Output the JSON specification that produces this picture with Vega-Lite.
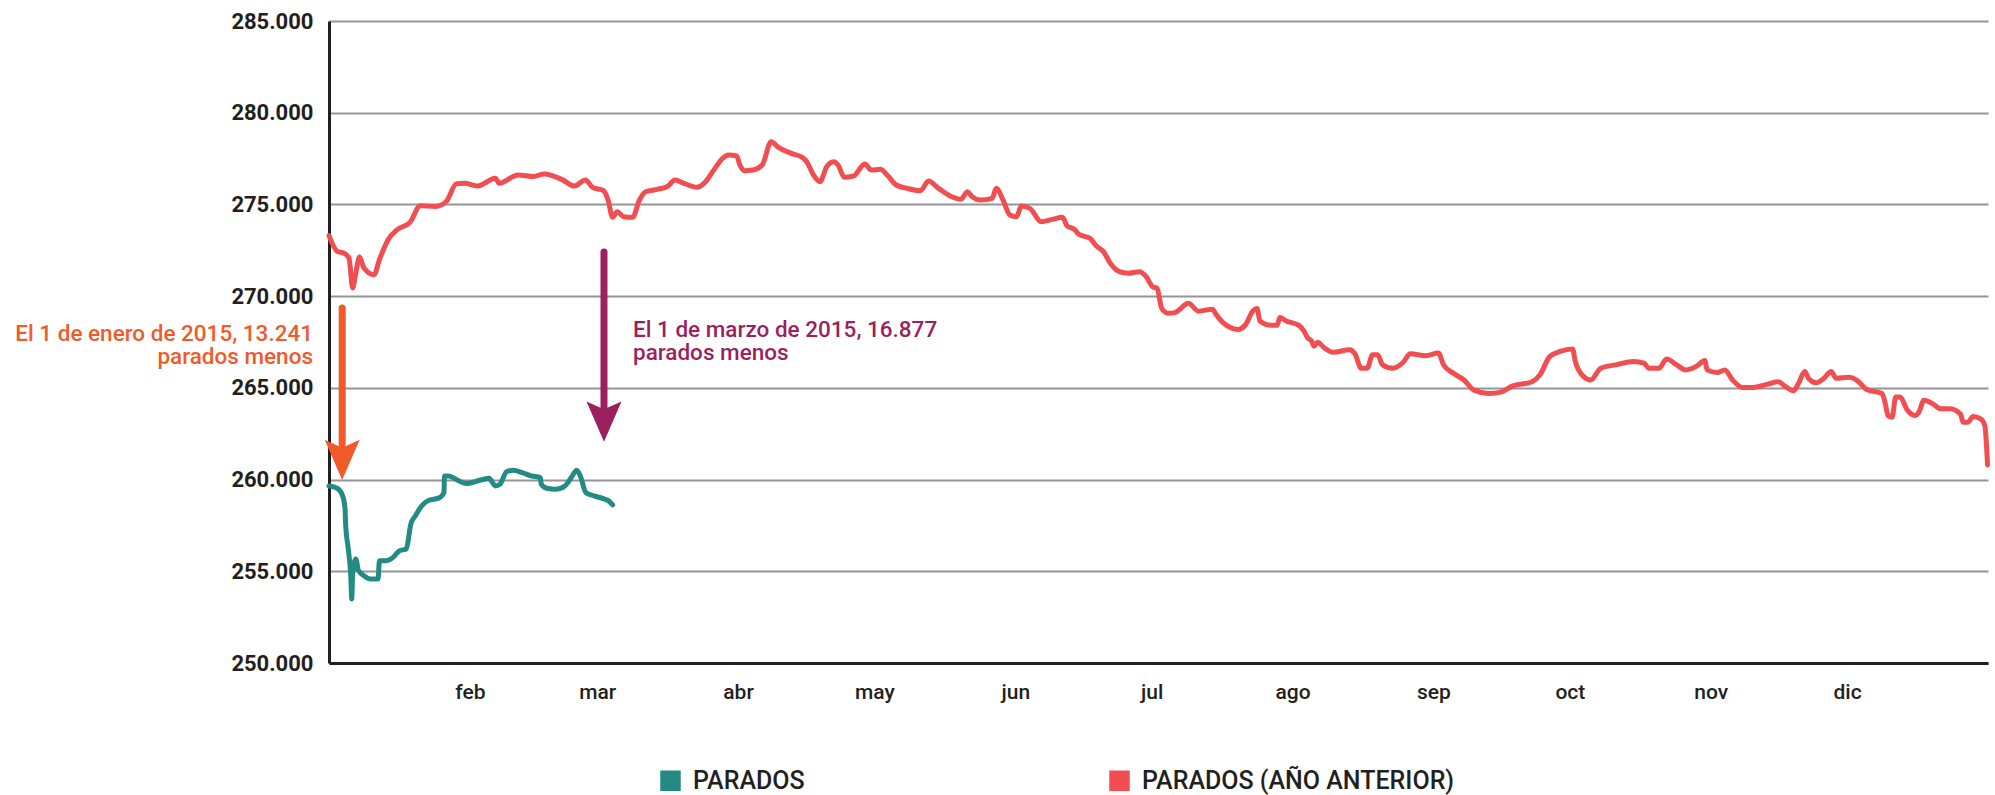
{
  "$schema": "https://vega.github.io/schema/vega-lite/v6.json",
  "autosize": {"type": "none"},
  "padding": {"left": 329, "top": 21, "right": 7, "bottom": 132},
  "width": 1659,
  "height": 642,
  "background": "white",
  "config": {
    "font": "Roboto",
    "view": {"stroke": null}
  },
  "datasets": {
    "series": [
      {"serie": "PARADOS (AÑO ANTERIOR)", "dia": 0, "parados": 273295},
      {"serie": "PARADOS (AÑO ANTERIOR)", "dia": 1.8, "parados": 272443},
      {"serie": "PARADOS (AÑO ANTERIOR)", "dia": 3.2, "parados": 272350},
      {"serie": "PARADOS (AÑO ANTERIOR)", "dia": 4.4, "parados": 272080},
      {"serie": "PARADOS (AÑO ANTERIOR)", "dia": 5.2, "parados": 270450},
      {"serie": "PARADOS (AÑO ANTERIOR)", "dia": 5.9, "parados": 271265},
      {"serie": "PARADOS (AÑO ANTERIOR)", "dia": 6.7, "parados": 272130},
      {"serie": "PARADOS (AÑO ANTERIOR)", "dia": 7.7, "parados": 271537},
      {"serie": "PARADOS (AÑO ANTERIOR)", "dia": 9.9, "parados": 271170},
      {"serie": "PARADOS (AÑO ANTERIOR)", "dia": 11.1, "parados": 271990},
      {"serie": "PARADOS (AÑO ANTERIOR)", "dia": 13, "parados": 273077},
      {"serie": "PARADOS (AÑO ANTERIOR)", "dia": 15, "parados": 273620},
      {"serie": "PARADOS (AÑO ANTERIOR)", "dia": 17.8, "parados": 274020},
      {"serie": "PARADOS (AÑO ANTERIOR)", "dia": 20.1, "parados": 274925},
      {"serie": "PARADOS (AÑO ANTERIOR)", "dia": 23.4, "parados": 274890},
      {"serie": "PARADOS (AÑO ANTERIOR)", "dia": 25.8, "parados": 275160},
      {"serie": "PARADOS (AÑO ANTERIOR)", "dia": 28, "parados": 276120},
      {"serie": "PARADOS (AÑO ANTERIOR)", "dia": 29.8, "parados": 276157},
      {"serie": "PARADOS (AÑO ANTERIOR)", "dia": 32.7, "parados": 276010},
      {"serie": "PARADOS (AÑO ANTERIOR)", "dia": 36.6, "parados": 276430},
      {"serie": "PARADOS (AÑO ANTERIOR)", "dia": 37.4, "parados": 276157},
      {"serie": "PARADOS (AÑO ANTERIOR)", "dia": 41.6, "parados": 276610},
      {"serie": "PARADOS (AÑO ANTERIOR)", "dia": 45, "parados": 276520},
      {"serie": "PARADOS (AÑO ANTERIOR)", "dia": 47.4, "parados": 276665},
      {"serie": "PARADOS (AÑO ANTERIOR)", "dia": 51.4, "parados": 276340},
      {"serie": "PARADOS (AÑO ANTERIOR)", "dia": 54, "parados": 276004},
      {"serie": "PARADOS (AÑO ANTERIOR)", "dia": 56.4, "parados": 276330},
      {"serie": "PARADOS (AÑO ANTERIOR)", "dia": 58, "parados": 275933},
      {"serie": "PARADOS (AÑO ANTERIOR)", "dia": 60.4, "parados": 275748},
      {"serie": "PARADOS (AÑO ANTERIOR)", "dia": 61.4, "parados": 275241},
      {"serie": "PARADOS (AÑO ANTERIOR)", "dia": 62.4, "parados": 274297},
      {"serie": "PARADOS (AÑO ANTERIOR)", "dia": 63.4, "parados": 274603},
      {"serie": "PARADOS (AÑO ANTERIOR)", "dia": 64.8, "parados": 274331},
      {"serie": "PARADOS (AÑO ANTERIOR)", "dia": 66.8, "parados": 274297},
      {"serie": "PARADOS (AÑO ANTERIOR)", "dia": 68.3, "parados": 275241},
      {"serie": "PARADOS (AÑO ANTERIOR)", "dia": 69.7, "parados": 275694},
      {"serie": "PARADOS (AÑO ANTERIOR)", "dia": 72.2, "parados": 275820},
      {"serie": "PARADOS (AÑO ANTERIOR)", "dia": 74.6, "parados": 276004},
      {"serie": "PARADOS (AÑO ANTERIOR)", "dia": 76.1, "parados": 276330},
      {"serie": "PARADOS (AÑO ANTERIOR)", "dia": 78.1, "parados": 276149},
      {"serie": "PARADOS (AÑO ANTERIOR)", "dia": 81, "parados": 275933},
      {"serie": "PARADOS (AÑO ANTERIOR)", "dia": 82.5, "parados": 276149},
      {"serie": "PARADOS (AÑO ANTERIOR)", "dia": 84.9, "parados": 276966},
      {"serie": "PARADOS (AÑO ANTERIOR)", "dia": 86.4, "parados": 277459},
      {"serie": "PARADOS (AÑO ANTERIOR)", "dia": 87.9, "parados": 277694},
      {"serie": "PARADOS (AÑO ANTERIOR)", "dia": 89.7, "parados": 277640},
      {"serie": "PARADOS (AÑO ANTERIOR)", "dia": 90.4, "parados": 277149},
      {"serie": "PARADOS (AÑO ANTERIOR)", "dia": 91.4, "parados": 276840},
      {"serie": "PARADOS (AÑO ANTERIOR)", "dia": 93.3, "parados": 276876},
      {"serie": "PARADOS (AÑO ANTERIOR)", "dia": 95.3, "parados": 277149},
      {"serie": "PARADOS (AÑO ANTERIOR)", "dia": 97.3, "parados": 278420},
      {"serie": "PARADOS (AÑO ANTERIOR)", "dia": 98.7, "parados": 278148},
      {"serie": "PARADOS (AÑO ANTERIOR)", "dia": 101.7, "parados": 277785},
      {"serie": "PARADOS (AÑO ANTERIOR)", "dia": 104.1, "parados": 277567},
      {"serie": "PARADOS (AÑO ANTERIOR)", "dia": 105.1, "parados": 277330},
      {"serie": "PARADOS (AÑO ANTERIOR)", "dia": 106.6, "parados": 276604},
      {"serie": "PARADOS (AÑO ANTERIOR)", "dia": 108, "parados": 276240},
      {"serie": "PARADOS (AÑO ANTERIOR)", "dia": 109.5, "parados": 277058},
      {"serie": "PARADOS (AÑO ANTERIOR)", "dia": 111, "parados": 277330},
      {"serie": "PARADOS (AÑO ANTERIOR)", "dia": 112, "parados": 277149},
      {"serie": "PARADOS (AÑO ANTERIOR)", "dia": 113.4, "parados": 276476},
      {"serie": "PARADOS (AÑO ANTERIOR)", "dia": 115.4, "parados": 276549},
      {"serie": "PARADOS (AÑO ANTERIOR)", "dia": 117.9, "parados": 277204},
      {"serie": "PARADOS (AÑO ANTERIOR)", "dia": 119.3, "parados": 276876},
      {"serie": "PARADOS (AÑO ANTERIOR)", "dia": 121.3, "parados": 276913},
      {"serie": "PARADOS (AÑO ANTERIOR)", "dia": 122.8, "parados": 276604},
      {"serie": "PARADOS (AÑO ANTERIOR)", "dia": 124.8, "parados": 276059},
      {"serie": "PARADOS (AÑO ANTERIOR)", "dia": 127.2, "parados": 275877},
      {"serie": "PARADOS (AÑO ANTERIOR)", "dia": 130.1, "parados": 275748},
      {"serie": "PARADOS (AÑO ANTERIOR)", "dia": 131.9, "parados": 276276},
      {"serie": "PARADOS (AÑO ANTERIOR)", "dia": 134.1, "parados": 275877},
      {"serie": "PARADOS (AÑO ANTERIOR)", "dia": 137, "parados": 275421},
      {"serie": "PARADOS (AÑO ANTERIOR)", "dia": 139, "parados": 275276},
      {"serie": "PARADOS (AÑO ANTERIOR)", "dia": 140.5, "parados": 275694},
      {"serie": "PARADOS (AÑO ANTERIOR)", "dia": 141.4, "parados": 275440},
      {"serie": "PARADOS (AÑO ANTERIOR)", "dia": 143.4, "parados": 275241},
      {"serie": "PARADOS (AÑO ANTERIOR)", "dia": 145.9, "parados": 275330},
      {"serie": "PARADOS (AÑO ANTERIOR)", "dia": 146.8, "parados": 275877},
      {"serie": "PARADOS (AÑO ANTERIOR)", "dia": 148.3, "parados": 275241},
      {"serie": "PARADOS (AÑO ANTERIOR)", "dia": 149.8, "parados": 274423},
      {"serie": "PARADOS (AÑO ANTERIOR)", "dia": 151.3, "parados": 274331},
      {"serie": "PARADOS (AÑO ANTERIOR)", "dia": 152.3, "parados": 274913},
      {"serie": "PARADOS (AÑO ANTERIOR)", "dia": 154.2, "parados": 274786},
      {"serie": "PARADOS (AÑO ANTERIOR)", "dia": 156.7, "parados": 274058},
      {"serie": "PARADOS (AÑO ANTERIOR)", "dia": 159.1, "parados": 274185},
      {"serie": "PARADOS (AÑO ANTERIOR)", "dia": 161.4, "parados": 274297},
      {"serie": "PARADOS (AÑO ANTERIOR)", "dia": 162.4, "parados": 273823},
      {"serie": "PARADOS (AÑO ANTERIOR)", "dia": 164, "parados": 273641},
      {"serie": "PARADOS (AÑO ANTERIOR)", "dia": 165, "parados": 273369},
      {"serie": "PARADOS (AÑO ANTERIOR)", "dia": 167.4, "parados": 273151},
      {"serie": "PARADOS (AÑO ANTERIOR)", "dia": 169, "parados": 272696},
      {"serie": "PARADOS (AÑO ANTERIOR)", "dia": 170.4, "parados": 272423},
      {"serie": "PARADOS (AÑO ANTERIOR)", "dia": 171.9, "parados": 271789},
      {"serie": "PARADOS (AÑO ANTERIOR)", "dia": 173.9, "parados": 271332},
      {"serie": "PARADOS (AÑO ANTERIOR)", "dia": 175.8, "parados": 271244},
      {"serie": "PARADOS (AÑO ANTERIOR)", "dia": 178.3, "parados": 271332},
      {"serie": "PARADOS (AÑO ANTERIOR)", "dia": 179.8, "parados": 271059},
      {"serie": "PARADOS (AÑO ANTERIOR)", "dia": 181.2, "parados": 270514},
      {"serie": "PARADOS (AÑO ANTERIOR)", "dia": 182.2, "parados": 270424},
      {"serie": "PARADOS (AÑO ANTERIOR)", "dia": 183.2, "parados": 269336},
      {"serie": "PARADOS (AÑO ANTERIOR)", "dia": 184.7, "parados": 269064},
      {"serie": "PARADOS (AÑO ANTERIOR)", "dia": 186.1, "parados": 269100},
      {"serie": "PARADOS (AÑO ANTERIOR)", "dia": 189.1, "parados": 269609},
      {"serie": "PARADOS (AÑO ANTERIOR)", "dia": 191.3, "parados": 269180},
      {"serie": "PARADOS (AÑO ANTERIOR)", "dia": 194.4, "parados": 269291},
      {"serie": "PARADOS (AÑO ANTERIOR)", "dia": 195, "parados": 269070},
      {"serie": "PARADOS (AÑO ANTERIOR)", "dia": 196.7, "parados": 268555},
      {"serie": "PARADOS (AÑO ANTERIOR)", "dia": 200, "parados": 268187},
      {"serie": "PARADOS (AÑO ANTERIOR)", "dia": 201.7, "parados": 268463},
      {"serie": "PARADOS (AÑO ANTERIOR)", "dia": 203.3, "parados": 269199},
      {"serie": "PARADOS (AÑO ANTERIOR)", "dia": 204.2, "parados": 269328},
      {"serie": "PARADOS (AÑO ANTERIOR)", "dia": 204.8, "parados": 268647},
      {"serie": "PARADOS (AÑO ANTERIOR)", "dia": 207.3, "parados": 268408},
      {"serie": "PARADOS (AÑO ANTERIOR)", "dia": 208.6, "parados": 268408},
      {"serie": "PARADOS (AÑO ANTERIOR)", "dia": 209.2, "parados": 268831},
      {"serie": "PARADOS (AÑO ANTERIOR)", "dia": 210.6, "parados": 268647},
      {"serie": "PARADOS (AÑO ANTERIOR)", "dia": 213.4, "parados": 268408},
      {"serie": "PARADOS (AÑO ANTERIOR)", "dia": 214.5, "parados": 268095},
      {"serie": "PARADOS (AÑO ANTERIOR)", "dia": 215.3, "parados": 267727},
      {"serie": "PARADOS (AÑO ANTERIOR)", "dia": 216.2, "parados": 267543},
      {"serie": "PARADOS (AÑO ANTERIOR)", "dia": 216.7, "parados": 267267},
      {"serie": "PARADOS (AÑO ANTERIOR)", "dia": 217.5, "parados": 267488},
      {"serie": "PARADOS (AÑO ANTERIOR)", "dia": 219, "parados": 267175},
      {"serie": "PARADOS (AÑO ANTERIOR)", "dia": 220.9, "parados": 266936},
      {"serie": "PARADOS (AÑO ANTERIOR)", "dia": 224.6, "parados": 267083},
      {"serie": "PARADOS (AÑO ANTERIOR)", "dia": 225.7, "parados": 266862},
      {"serie": "PARADOS (AÑO ANTERIOR)", "dia": 227.1, "parados": 266071},
      {"serie": "PARADOS (AÑO ANTERIOR)", "dia": 228.4, "parados": 266071},
      {"serie": "PARADOS (AÑO ANTERIOR)", "dia": 229.6, "parados": 266807},
      {"serie": "PARADOS (AÑO ANTERIOR)", "dia": 230.7, "parados": 266807},
      {"serie": "PARADOS (AÑO ANTERIOR)", "dia": 231.8, "parados": 266255},
      {"serie": "PARADOS (AÑO ANTERIOR)", "dia": 234, "parados": 266071},
      {"serie": "PARADOS (AÑO ANTERIOR)", "dia": 236.3, "parados": 266384},
      {"serie": "PARADOS (AÑO ANTERIOR)", "dia": 237.9, "parados": 266862},
      {"serie": "PARADOS (AÑO ANTERIOR)", "dia": 241.3, "parados": 266752},
      {"serie": "PARADOS (AÑO ANTERIOR)", "dia": 244.1, "parados": 266899},
      {"serie": "PARADOS (AÑO ANTERIOR)", "dia": 245.2, "parados": 266255},
      {"serie": "PARADOS (AÑO ANTERIOR)", "dia": 247.4, "parados": 265795},
      {"serie": "PARADOS (AÑO ANTERIOR)", "dia": 249.7, "parados": 265427},
      {"serie": "PARADOS (AÑO ANTERIOR)", "dia": 251.9, "parados": 264875},
      {"serie": "PARADOS (AÑO ANTERIOR)", "dia": 255.2, "parados": 264691},
      {"serie": "PARADOS (AÑO ANTERIOR)", "dia": 258, "parados": 264783},
      {"serie": "PARADOS (AÑO ANTERIOR)", "dia": 260.3, "parados": 265096},
      {"serie": "PARADOS (AÑO ANTERIOR)", "dia": 264.7, "parados": 265335},
      {"serie": "PARADOS (AÑO ANTERIOR)", "dia": 266.4, "parados": 265703},
      {"serie": "PARADOS (AÑO ANTERIOR)", "dia": 268.6, "parados": 266715},
      {"serie": "PARADOS (AÑO ANTERIOR)", "dia": 270.9, "parados": 266991},
      {"serie": "PARADOS (AÑO ANTERIOR)", "dia": 273.6, "parados": 267120},
      {"serie": "PARADOS (AÑO ANTERIOR)", "dia": 274.2, "parados": 266439},
      {"serie": "PARADOS (AÑO ANTERIOR)", "dia": 275.9, "parados": 265648},
      {"serie": "PARADOS (AÑO ANTERIOR)", "dia": 277.6, "parados": 265427},
      {"serie": "PARADOS (AÑO ANTERIOR)", "dia": 279.8, "parados": 266071},
      {"serie": "PARADOS (AÑO ANTERIOR)", "dia": 283.1, "parados": 266255},
      {"serie": "PARADOS (AÑO ANTERIOR)", "dia": 287, "parados": 266439},
      {"serie": "PARADOS (AÑO ANTERIOR)", "dia": 289.3, "parados": 266347},
      {"serie": "PARADOS (AÑO ANTERIOR)", "dia": 290.4, "parados": 266071},
      {"serie": "PARADOS (AÑO ANTERIOR)", "dia": 292.6, "parados": 266071},
      {"serie": "PARADOS (AÑO ANTERIOR)", "dia": 294.3, "parados": 266568},
      {"serie": "PARADOS (AÑO ANTERIOR)", "dia": 296.5, "parados": 266255},
      {"serie": "PARADOS (AÑO ANTERIOR)", "dia": 298.5, "parados": 265979},
      {"serie": "PARADOS (AÑO ANTERIOR)", "dia": 301, "parados": 266200},
      {"serie": "PARADOS (AÑO ANTERIOR)", "dia": 302.7, "parados": 266494},
      {"serie": "PARADOS (AÑO ANTERIOR)", "dia": 303.2, "parados": 265979},
      {"serie": "PARADOS (AÑO ANTERIOR)", "dia": 305.4, "parados": 265832},
      {"serie": "PARADOS (AÑO ANTERIOR)", "dia": 307.1, "parados": 265979},
      {"serie": "PARADOS (AÑO ANTERIOR)", "dia": 308.8, "parados": 265427},
      {"serie": "PARADOS (AÑO ANTERIOR)", "dia": 311, "parados": 265022},
      {"serie": "PARADOS (AÑO ANTERIOR)", "dia": 313.2, "parados": 265022},
      {"serie": "PARADOS (AÑO ANTERIOR)", "dia": 316.6, "parados": 265206},
      {"serie": "PARADOS (AÑO ANTERIOR)", "dia": 318.8, "parados": 265335},
      {"serie": "PARADOS (AÑO ANTERIOR)", "dia": 320.5, "parados": 265059},
      {"serie": "PARADOS (AÑO ANTERIOR)", "dia": 322.2, "parados": 264838},
      {"serie": "PARADOS (AÑO ANTERIOR)", "dia": 323.3, "parados": 265243},
      {"serie": "PARADOS (AÑO ANTERIOR)", "dia": 324.7, "parados": 265887},
      {"serie": "PARADOS (AÑO ANTERIOR)", "dia": 325.5, "parados": 265519},
      {"serie": "PARADOS (AÑO ANTERIOR)", "dia": 327.2, "parados": 265280},
      {"serie": "PARADOS (AÑO ANTERIOR)", "dia": 328.9, "parados": 265519},
      {"serie": "PARADOS (AÑO ANTERIOR)", "dia": 330.5, "parados": 265887},
      {"serie": "PARADOS (AÑO ANTERIOR)", "dia": 331.6, "parados": 265519},
      {"serie": "PARADOS (AÑO ANTERIOR)", "dia": 334.4, "parados": 265574},
      {"serie": "PARADOS (AÑO ANTERIOR)", "dia": 336.1, "parados": 265427},
      {"serie": "PARADOS (AÑO ANTERIOR)", "dia": 338.3, "parados": 264912},
      {"serie": "PARADOS (AÑO ANTERIOR)", "dia": 341.7, "parados": 264691},
      {"serie": "PARADOS (AÑO ANTERIOR)", "dia": 342.4, "parados": 264139},
      {"serie": "PARADOS (AÑO ANTERIOR)", "dia": 343, "parados": 263495},
      {"serie": "PARADOS (AÑO ANTERIOR)", "dia": 343.9, "parados": 263403},
      {"serie": "PARADOS (AÑO ANTERIOR)", "dia": 344.7, "parados": 264507},
      {"serie": "PARADOS (AÑO ANTERIOR)", "dia": 345.6, "parados": 264507},
      {"serie": "PARADOS (AÑO ANTERIOR)", "dia": 347.3, "parados": 263771},
      {"serie": "PARADOS (AÑO ANTERIOR)", "dia": 348.9, "parados": 263495},
      {"serie": "PARADOS (AÑO ANTERIOR)", "dia": 349.8, "parados": 263679},
      {"serie": "PARADOS (AÑO ANTERIOR)", "dia": 350.9, "parados": 264323},
      {"serie": "PARADOS (AÑO ANTERIOR)", "dia": 352.8, "parados": 264139},
      {"serie": "PARADOS (AÑO ANTERIOR)", "dia": 354.5, "parados": 263863},
      {"serie": "PARADOS (AÑO ANTERIOR)", "dia": 356.7, "parados": 263863},
      {"serie": "PARADOS (AÑO ANTERIOR)", "dia": 359, "parados": 263550},
      {"serie": "PARADOS (AÑO ANTERIOR)", "dia": 359.5, "parados": 263127},
      {"serie": "PARADOS (AÑO ANTERIOR)", "dia": 360.6, "parados": 263127},
      {"serie": "PARADOS (AÑO ANTERIOR)", "dia": 361.7, "parados": 263440},
      {"serie": "PARADOS (AÑO ANTERIOR)", "dia": 363.4, "parados": 263311},
      {"serie": "PARADOS (AÑO ANTERIOR)", "dia": 364.3, "parados": 262943},
      {"serie": "PARADOS (AÑO ANTERIOR)", "dia": 364.9, "parados": 260800},
      {"serie": "PARADOS", "dia": 0, "parados": 259655},
      {"serie": "PARADOS", "dia": 1.8, "parados": 259528},
      {"serie": "PARADOS", "dia": 3, "parados": 259111},
      {"serie": "PARADOS", "dia": 3.5, "parados": 258477},
      {"serie": "PARADOS", "dia": 3.7, "parados": 257390},
      {"serie": "PARADOS", "dia": 4.2, "parados": 256302},
      {"serie": "PARADOS", "dia": 4.8, "parados": 254672},
      {"serie": "PARADOS", "dia": 5, "parados": 253494},
      {"serie": "PARADOS", "dia": 5.2, "parados": 254853},
      {"serie": "PARADOS", "dia": 5.9, "parados": 255668},
      {"serie": "PARADOS", "dia": 6.5, "parados": 255034},
      {"serie": "PARADOS", "dia": 7.7, "parados": 254762},
      {"serie": "PARADOS", "dia": 9.1, "parados": 254581},
      {"serie": "PARADOS", "dia": 10.8, "parados": 254581},
      {"serie": "PARADOS", "dia": 11.1, "parados": 255578},
      {"serie": "PARADOS", "dia": 12.6, "parados": 255578},
      {"serie": "PARADOS", "dia": 14.1, "parados": 255759},
      {"serie": "PARADOS", "dia": 15.5, "parados": 256121},
      {"serie": "PARADOS", "dia": 17, "parados": 256212},
      {"serie": "PARADOS", "dia": 18, "parados": 257571},
      {"serie": "PARADOS", "dia": 19, "parados": 258024},
      {"serie": "PARADOS", "dia": 20.4, "parados": 258567},
      {"serie": "PARADOS", "dia": 21.7, "parados": 258839},
      {"serie": "PARADOS", "dia": 24.4, "parados": 259020},
      {"serie": "PARADOS", "dia": 25.3, "parados": 259292},
      {"serie": "PARADOS", "dia": 25.4, "parados": 260198},
      {"serie": "PARADOS", "dia": 26.3, "parados": 260198},
      {"serie": "PARADOS", "dia": 28.3, "parados": 259962},
      {"serie": "PARADOS", "dia": 30.3, "parados": 259781},
      {"serie": "PARADOS", "dia": 33.2, "parados": 259962},
      {"serie": "PARADOS", "dia": 35.2, "parados": 260071},
      {"serie": "PARADOS", "dia": 36.6, "parados": 259655},
      {"serie": "PARADOS", "dia": 37.6, "parados": 259745},
      {"serie": "PARADOS", "dia": 39.1, "parados": 260434},
      {"serie": "PARADOS", "dia": 40.6, "parados": 260506},
      {"serie": "PARADOS", "dia": 42.5, "parados": 260379},
      {"serie": "PARADOS", "dia": 44.5, "parados": 260198},
      {"serie": "PARADOS", "dia": 46.5, "parados": 260108},
      {"serie": "PARADOS", "dia": 46.7, "parados": 259745},
      {"serie": "PARADOS", "dia": 47.9, "parados": 259528},
      {"serie": "PARADOS", "dia": 49.9, "parados": 259474},
      {"serie": "PARADOS", "dia": 51.9, "parados": 259655},
      {"serie": "PARADOS", "dia": 53.3, "parados": 260108},
      {"serie": "PARADOS", "dia": 54.5, "parados": 260506},
      {"serie": "PARADOS", "dia": 55.3, "parados": 260198},
      {"serie": "PARADOS", "dia": 56.5, "parados": 259292},
      {"serie": "PARADOS", "dia": 58.3, "parados": 259111},
      {"serie": "PARADOS", "dia": 60.7, "parados": 258930},
      {"serie": "PARADOS", "dia": 61.7, "parados": 258803},
      {"serie": "PARADOS", "dia": 62.4, "parados": 258622}
    ],
    "notas": [
      {"nota": "enero", "dia": 2.9, "inicio": 269353, "fin": 261900, "punta": 261067, "texto_dia": 0, "texto_valor": 267560, "texto": ["El 1 de enero de 2015, 13.241", "parados menos"]},
      {"nota": "marzo", "dia": 60.5, "inicio": 272407, "fin": 263800, "punta": 263160, "texto_dia": 60.5, "texto_valor": 267760, "texto": ["El 1 de marzo de 2015, 16.877", "parados menos"]}
    ]
  },
  "layer": [
    {
      "data": {"name": "series"},
      "mark": {"type": "line", "strokeWidth": 5, "interpolate": "monotone", "strokeCap": "round", "strokeJoin": "round"},
      "encoding": {
        "x": {
          "field": "dia", "type": "quantitative",
          "scale": {"domain": [0, 365], "nice": false, "zero": false},
          "axis": {
            "title": null,
            "values": [31, 59, 90, 120, 151, 181, 212, 243, 273, 304, 334],
            "labelExpr": "['ene','feb','mar','abr','may','jun','jul','ago','sep','oct','nov','dic'][indexof([0,31,59,90,120,151,181,212,243,273,304,334], datum.value)]",
            "grid": false,
            "ticks": false,
            "domainColor": "#231f20",
            "domainWidth": 3,
            "labelFontSize": 21,
            "labelFontWeight": 500,
            "labelColor": "#231f20",
            "labelPadding": 18,
            "labelFont": "Roboto"
          }
        },
        "y": {
          "field": "parados", "type": "quantitative",
          "scale": {"domain": [250000, 285000], "nice": false, "zero": false},
          "axis": {
            "title": null,
            "values": [250000, 255000, 260000, 265000, 270000, 275000, 280000, 285000],
            "labelExpr": "replace(format(datum.value, ','), ',', '.')",
            "grid": true,
            "gridColor": "#939598",
            "gridWidth": 2,
            "ticks": false,
            "domainColor": "#231f20",
            "domainWidth": 3,
            "labelFontSize": 22,
            "labelFontWeight": "bold",
            "labelColor": "#231f20",
            "labelPadding": 16,
            "labelFont": "Roboto"
          }
        },
        "color": {
          "field": "serie", "type": "nominal",
          "scale": {"domain": ["PARADOS", "PARADOS (AÑO ANTERIOR)"], "range": ["#238a84", "#f04e50"]},
          "legend": {
            "title": null,
            "orient": "none",
            "legendX": 329,
            "legendY": 747,
            "direction": "horizontal",
            "padding": 0,
            "columnPadding": 302,
            "symbolType": "square",
            "symbolSize": 420,
            "labelFontSize": 25,
            "labelFontWeight": 500,
            "labelColor": "#231f20",
            "labelOffset": 10,
            "labelLimit": 0,
            "labelFont": "Roboto",
            "encode": {
              "symbols": {
                "update": {
                  "fill": {"scale": "color", "field": "value"},
                  "stroke": {"value": "transparent"},
                  "strokeWidth": {"value": 0}
                }
              }
            }
          }
        },
        "detail": {"field": "serie"}
      }
    },
    {
      "data": {"name": "notas"},
      "transform": [{"filter": "datum.nota === 'enero'"}],
      "mark": {"type": "rule", "color": "#f15a29", "strokeWidth": 7, "strokeCap": "round"},
      "encoding": {
        "x": {"field": "dia", "type": "quantitative"},
        "y": {"field": "inicio", "type": "quantitative"},
        "y2": {"field": "fin"}
      }
    },
    {
      "data": {"name": "notas"},
      "transform": [{"filter": "datum.nota === 'marzo'"}],
      "mark": {"type": "rule", "color": "#9c1f5e", "strokeWidth": 7, "strokeCap": "round"},
      "encoding": {
        "x": {"field": "dia", "type": "quantitative"},
        "y": {"field": "inicio", "type": "quantitative"},
        "y2": {"field": "fin"}
      }
    },
    {
      "data": {"name": "notas"},
      "transform": [{"filter": "datum.nota === 'enero'"}],
      "mark": {"type": "point", "shape": "M-1,-1.15L0,-0.7L1,-1.15L0,1.15Z", "size": 1225, "filled": true, "opacity": 1, "color": "#f15a29"},
      "encoding": {
        "x": {"field": "dia", "type": "quantitative"},
        "y": {"field": "punta", "type": "quantitative"}
      }
    },
    {
      "data": {"name": "notas"},
      "transform": [{"filter": "datum.nota === 'marzo'"}],
      "mark": {"type": "point", "shape": "M-1,-1.15L0,-0.7L1,-1.15L0,1.15Z", "size": 1225, "filled": true, "opacity": 1, "color": "#9c1f5e"},
      "encoding": {
        "x": {"field": "dia", "type": "quantitative"},
        "y": {"field": "punta", "type": "quantitative"}
      }
    },
    {
      "data": {"name": "notas"},
      "transform": [{"filter": "datum.nota === 'enero'"}],
      "mark": {"type": "text", "align": "right", "baseline": "alphabetic", "dx": -16, "fontSize": 22.5, "fontWeight": 500, "lineHeight": 23, "color": "#f15a29", "font": "Roboto"},
      "encoding": {
        "x": {"field": "texto_dia", "type": "quantitative"},
        "y": {"field": "texto_valor", "type": "quantitative"},
        "text": {"field": "texto"}
      }
    },
    {
      "data": {"name": "notas"},
      "transform": [{"filter": "datum.nota === 'marzo'"}],
      "mark": {"type": "text", "align": "left", "baseline": "alphabetic", "dx": 29, "fontSize": 22.5, "fontWeight": 500, "lineHeight": 23, "color": "#9c1f5e", "font": "Roboto"},
      "encoding": {
        "x": {"field": "texto_dia", "type": "quantitative"},
        "y": {"field": "texto_valor", "type": "quantitative"},
        "text": {"field": "texto"}
      }
    }
  ]
}
